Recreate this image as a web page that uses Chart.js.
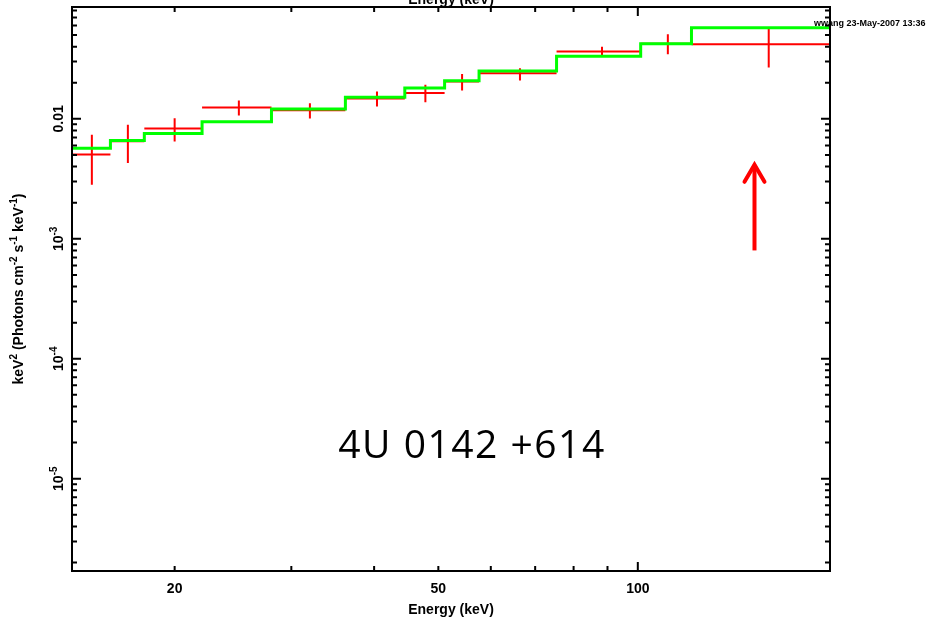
<!DOCTYPE html>
<html>
<head>
<meta charset="utf-8">
<script src="https://cdn.jsdelivr.net/npm/chart.js@4/dist/chart.umd.min.js"></script>
<style>
  html, body { margin: 0; padding: 0; background: #fff; }
  canvas { display: block; }
</style>
</head>
<body>
<canvas id="chart" width="935" height="620"></canvas>
<script>
// energy bins (keV)
const binLo = [14, 16, 18, 22, 28, 36.2, 44.5, 51.1, 57.6, 75.4, 101, 120.5];
const binHi = [16, 18, 22, 28, 36.2, 44.5, 51.1, 57.6, 75.4, 101, 120.5, 200];
const binMid = [15, 17, 20, 25, 32, 40.4, 47.8, 54.3, 66.4, 88.3, 111, 157.6];

// unfolded data, keV^2 (photons cm^-2 s^-1 keV^-1)
const fluxData = [0.00504, 0.0065, 0.0083, 0.01242, 0.01181, 0.01476, 0.01646, 0.02045, 0.024, 0.03635, 0.04236, 0.04188];
const fluxLo = [0.00282, 0.00428, 0.00647, 0.01065, 0.01006, 0.01266, 0.01377, 0.0172, 0.02084, 0.03346, 0.03457, 0.02674];
const fluxHi = [0.00736, 0.00891, 0.01013, 0.0142, 0.01351, 0.01688, 0.0192, 0.0237, 0.02644, 0.04, 0.05073, 0.0569];

// model
const modelFlux = [0.0057, 0.0066, 0.00754, 0.00944, 0.01211, 0.01516, 0.01812, 0.02073, 0.02509, 0.03327, 0.04236, 0.05757];

// arrow annotation (energy, from, to)
const arrowE = 150;
const arrowFrom = 8.0e-4;
const arrowTo = 4.3e-3;

// axes
const xMin = 14, xMax = 195;
const yMin = 1.7e-6, yMax = 0.0856;
const xTickVals = [20, 50, 100];
const xTickLabels = ['20', '50', '100'];
const yTickVals = [1e-2, 1e-3, 1e-4, 1e-5];
const yTickLabels = ['0.01', '10^{-3}', '10^{-4}', '10^{-5}'];

const xTitle = 'Energy (keV)';
const yTitle = 'keV^{2} (Photons cm^{-2} s^{-1} keV^{-1})';
const sourceName = '4U 0142 +614';
const stamp = 'wwang 23-May-2007 13:36';

const FONT = '"Liberation Sans", Arial, Helvetica, sans-serif';

let dataPts = [];
let errPts = [];
let modelPts = [];
for (let i = 0; i < binLo.length; i++) {
    dataPts.push({x: binLo[i], y: fluxData[i]}, {x: binHi[i], y: fluxData[i]}, {x: binHi[i], y: null});
    errPts.push({x: binMid[i], y: fluxLo[i]}, {x: binMid[i], y: fluxHi[i]}, {x: binMid[i], y: null});
    modelPts.push({x: binLo[i], y: modelFlux[i]});
}
modelPts.push({x: binHi[binHi.length - 1], y: modelFlux[modelFlux.length - 1]});

// split "10^{-3}" into normal / superscript parts
function parseRich(s) {
    let parts = [];
    let re = /\^\{([^}]*)\}/g;
    let last = 0, m;
    while ((m = re.exec(s)) !== null) {
        if (m.index > last) parts.push({t: s.slice(last, m.index), sup: false});
        parts.push({t: m[1], sup: true});
        last = re.lastIndex;
    }
    if (last < s.length) parts.push({t: s.slice(last), sup: false});
    return parts;
}

function drawRich(ctx, s, x, y, size) {
    let parts = parseRich(s);
    let supSize = Math.round(size * 0.68);
    let total = 0;
    parts.forEach(p => {
        ctx.font = 'bold ' + (p.sup ? supSize : size) + 'px ' + FONT;
        p.w = ctx.measureText(p.t).width;
        total += p.w;
    });
    let cx = x - total / 2;
    ctx.textAlign = 'left';
    ctx.textBaseline = 'alphabetic';
    parts.forEach(p => {
        ctx.font = 'bold ' + (p.sup ? supSize : size) + 'px ' + FONT;
        ctx.fillText(p.t, cx, p.sup ? y - size * 0.42 : y);
        cx += p.w;
    });
}

function minorTicks(min, max) {
    let out = [];
    for (let e = Math.floor(Math.log10(min)); e <= Math.ceil(Math.log10(max)); e++) {
        for (let k = 1; k <= 9; k++) {
            let v = k * Math.pow(10, e);
            if (v >= min && v <= max) out.push({v: v, major: k === 1});
        }
    }
    return out;
}

const framePlugin = {
    id: 'frame',
    afterDatasetsDraw(chart) {
        const ctx = chart.ctx;
        const a = chart.chartArea;
        const xs = chart.scales.x, ys = chart.scales.y;
        ctx.save();

        // arrow
        let ax = xs.getPixelForValue(arrowE);
        let ay0 = ys.getPixelForValue(arrowFrom);
        let ay1 = ys.getPixelForValue(arrowTo);
        ctx.strokeStyle = '#ff0000';
        ctx.lineWidth = 4;
        ctx.beginPath();
        ctx.moveTo(ax, ay0);
        ctx.lineTo(ax, ay1 + 2);
        ctx.stroke();
        ctx.lineCap = 'round';
        ctx.beginPath();
        ctx.moveTo(ax - 10, ay1 + 19);
        ctx.lineTo(ax, ay1 + 2);
        ctx.lineTo(ax + 10, ay1 + 19);
        ctx.stroke();
        ctx.lineCap = 'butt';

        // frame
        ctx.strokeStyle = '#000';
        ctx.lineWidth = 2;
        ctx.strokeRect(a.left, a.top, a.right - a.left, a.bottom - a.top);

        // ticks
        ctx.beginPath();
        minorTicks(xMin, xMax).forEach(t => {
            let px = xs.getPixelForValue(t.v);
            let len = t.major ? 9 : 5;
            ctx.moveTo(px, a.bottom);
            ctx.lineTo(px, a.bottom - len);
            ctx.moveTo(px, a.top);
            ctx.lineTo(px, a.top + len);
        });
        minorTicks(yMin, yMax).forEach(t => {
            let py = ys.getPixelForValue(t.v);
            let len = t.major ? 9 : 5;
            ctx.moveTo(a.left, py);
            ctx.lineTo(a.left + len, py);
            ctx.moveTo(a.right, py);
            ctx.lineTo(a.right - len, py);
        });
        ctx.stroke();

        ctx.fillStyle = '#000';
        // x tick labels
        xTickVals.forEach((v, i) => {
            drawRich(ctx, xTickLabels[i], xs.getPixelForValue(v), a.bottom + 22, 14);
        });
        // y tick labels, rotated
        yTickVals.forEach((v, i) => {
            ctx.save();
            ctx.translate(a.left - 9, ys.getPixelForValue(v));
            ctx.rotate(-Math.PI / 2);
            drawRich(ctx, yTickLabels[i], 0, 0, 14);
            ctx.restore();
        });

        // axis titles
        let midX = (a.left + a.right) / 2;
        drawRich(ctx, xTitle, midX, a.bottom + 43, 14);
        drawRich(ctx, xTitle, midX, a.top - 3, 14);
        ctx.save();
        ctx.translate(23, (a.top + a.bottom) / 2);
        ctx.rotate(-Math.PI / 2);
        drawRich(ctx, yTitle, 0, 0, 14);
        ctx.restore();

        // stamp
        ctx.font = 'bold 9px ' + FONT;
        ctx.textAlign = 'left';
        ctx.fillText(stamp, 814, 26);

        // source label
        ctx.font = '39px "Open Sans", Lato, sans-serif';
        ctx.letterSpacing = '1.5px';
        ctx.textAlign = 'center';
        ctx.fillText(sourceName, 472, 458);
        ctx.letterSpacing = '0px';

        ctx.restore();
    }
};

const chart = new Chart(document.getElementById('chart'), {
    type: 'line',
    data: {
        datasets: [
            {label: 'model', data: modelPts, borderColor: '#00ff00', borderWidth: 3, stepped: 'before', pointRadius: 0, order: 0},
            {label: 'data', data: dataPts, borderColor: '#ff0000', borderWidth: 2, pointRadius: 0, spanGaps: false, order: 1},
            {label: 'errors', data: errPts, borderColor: '#ff0000', borderWidth: 2, pointRadius: 0, spanGaps: false, order: 2}
        ]
    },
    options: {
        responsive: false,
        animation: false,
        layout: {padding: {left: 72, top: 7, right: 105, bottom: 49}},
        scales: {
            x: {type: 'logarithmic', min: xMin, max: xMax, display: false},
            y: {type: 'logarithmic', min: yMin, max: yMax, display: false}
        },
        plugins: {legend: {display: false}, tooltip: {enabled: false}}
    },
    plugins: [framePlugin]
});
</script>
</body>
</html>
